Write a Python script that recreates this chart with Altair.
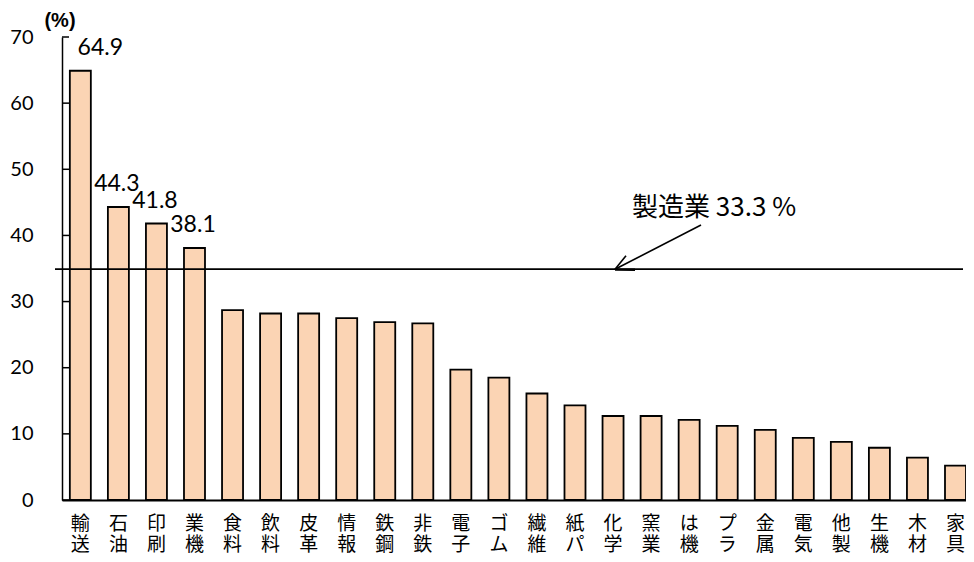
import altair as alt
import pandas as pd

categories = ["輸送", "石油", "印刷", "業機", "食料", "飲料", "皮革", "情報", "鉄鋼", "非鉄",
              "電子", "ゴム", "繊維", "紙パ", "化学", "窯業", "は機", "プラ", "金属", "電気",
              "他製", "生機", "木材", "家具"]
values = [64.9, 44.3, 41.8, 38.1, 28.7, 28.2, 28.2, 27.5, 26.9, 26.7,
          19.7, 18.5, 16.1, 14.3, 12.7, 12.7, 12.1, 11.2, 10.6, 9.4,
          8.8, 7.9, 6.4, 5.2]
value_labels = ["64.9", "44.3", "41.8", "38.1"] + [""] * 20
y_ticks = [0, 10, 20, 30, 40, 50, 60, 70]
mfg_line = [34.9]
mfg_text = "製造業 33.3 %"
unit_text = "(%)"

df = pd.DataFrame({"cat": categories, "value": values, "label": value_labels})
one = pd.DataFrame({"a": [0]})

yscale = alt.Scale(domain=[0, 70], nice=False, zero=True)
xscale = alt.Scale(paddingInner=0.448, paddingOuter=0.103, align=1)

x_axis = alt.Axis(
    labelExpr="[substring(datum.label,0,1), substring(datum.label,1,2)]",
    labelAngle=0, labelFont="Noto Sans CJK JP", labelFontSize=19,
    labelLineHeight=21, labelPadding=14, labelBaseline="top",
    ticks=False, tickSize=0, domainColor="black", domainWidth=2,
    labelColor="black", title=None, grid=False,
)
y_axis = alt.Axis(
    values=y_ticks, ticks=False, tickSize=0, labelPadding=29,
    labelFont="Lato", labelFontSize=20, labelColor="black",
    domainColor="black", domainWidth=1.5, grid=False, title=None,
)

X = alt.X("cat:N", sort=categories, scale=xscale, axis=x_axis)

bars = alt.Chart(df).mark_bar(fill="#FBD4B4", stroke="black", strokeWidth=1.8).encode(
    x=X,
    y=alt.Y("value:Q", scale=yscale, axis=y_axis),
)

lab_first = alt.Chart(df).transform_filter(alt.datum.cat == categories[0]).mark_text(
    font="Lato", fontSize=23, baseline="alphabetic", dy=-16, dx=20, color="black"
).encode(
    x=X,
    y=alt.Y("value:Q", scale=yscale, axis=y_axis),
    text="label:N",
)
lab_rest = alt.Chart(df).transform_filter(
    (alt.datum.label != "") & (alt.datum.cat != categories[0])
).mark_text(
    font="Lato", fontSize=23, baseline="alphabetic", dy=-16, dx=-1.5, color="black"
).encode(
    x=X,
    y=alt.Y("value:Q", scale=yscale, axis=y_axis),
    text="label:N",
)

ticks = alt.Chart(pd.DataFrame({"tick": y_ticks})).mark_rule(color="black", strokeWidth=1.5).encode(
    y=alt.Y("tick:Q", scale=yscale, axis=y_axis),
    x=alt.value(0), x2=alt.value(7),
)

hline = alt.Chart(pd.DataFrame({"v": mfg_line})).mark_rule(color="black", strokeWidth=1.6).encode(
    y=alt.Y("v:Q", scale=yscale, axis=y_axis),
    x=alt.value(-7), x2=alt.value(901),
)


def seg(x1, y1, x2, y2, w=1.6):
    return alt.Chart(one).mark_rule(color="black", strokeWidth=w).encode(
        x=alt.value(x1), y=alt.value(y1), x2=alt.value(x2), y2=alt.value(y2)
    )


arrow = seg(639, 188, 553, 232.3) + seg(564, 218.7, 553, 232.3) + seg(573, 232.8, 553, 232.6, 2.4)

unit = alt.Chart(one).mark_text(
    text=unit_text, font="Liberation Sans", fontSize=20, fontWeight="bold",
    align="center", baseline="alphabetic", color="black"
).encode(x=alt.value(-2), y=alt.value(-10))

mfg = alt.Chart(one).mark_text(
    text=mfg_text, font="Noto Sans CJK JP", fontSize=26,
    align="left", baseline="alphabetic", color="black"
).encode(x=alt.value(570), y=alt.value(179))

chart = alt.layer(bars, ticks, hline, arrow, lab_first, lab_rest, unit, mfg).properties(
    width=904, height=463,
    autosize=alt.AutoSizeParams(type="none"),
    padding={"left": 54, "top": 29, "right": 0, "bottom": 54},
    background="white",
).configure_view(stroke=None)

chart.save("out.html", embed_options={"renderer": "svg", "actions": False})
